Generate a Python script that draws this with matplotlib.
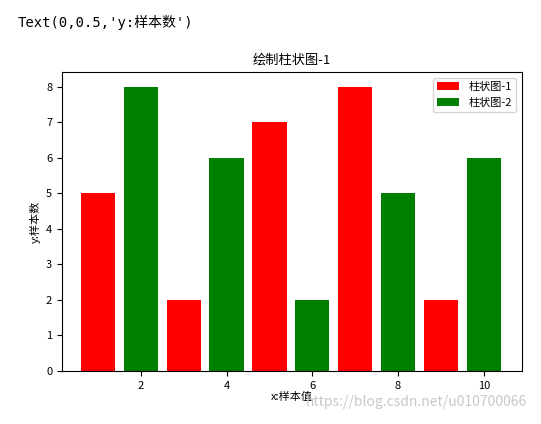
import matplotlib
matplotlib.use("Agg")
import matplotlib.pyplot as plt

plt.rcParams["font.family"] = ["Noto Sans CJK SC", "DejaVu Sans"]

x1 = [1, 3, 5, 7, 9]
y1 = [5, 2, 7, 8, 2]
x2 = [2, 4, 6, 8, 10]
y2 = [8, 6, 2, 5, 6]

fig = plt.figure(figsize=(5.41, 4.24), dpi=100)
ax = fig.add_axes([0.1146, 0.125, 0.850, 0.705])
ax.bar(x1, y1, color="red", label="柱状图-1")
ax.bar(x2, y2, color="green", label="柱状图-2")
ax.set_xlim(0.16, 10.89)
ax.set_ylim(0, 8.42)
ax.set_xticks([2, 4, 6, 8, 10])
ax.tick_params(labelsize=8)
ax.set_title("绘制柱状图-1", fontsize=9.5)
ax.set_xlabel("x:样本值", fontsize=8, labelpad=1)
ax.set_ylabel("y:样本数", fontsize=8)
ax.legend(loc="upper right", fontsize=8)

fig.text(0.033, 0.965, "Text(0,0.5,'y:样本数')", fontsize=10, va="top",
         family=["DejaVu Sans Mono", "Noto Sans CJK SC"])
fig.text(0.975, 0.035, "https://blog.csdn.net/u010700066", fontsize=10,
         ha="right", va="bottom", color="#c8c8c8")

fig.savefig("out.png", dpi=100)
